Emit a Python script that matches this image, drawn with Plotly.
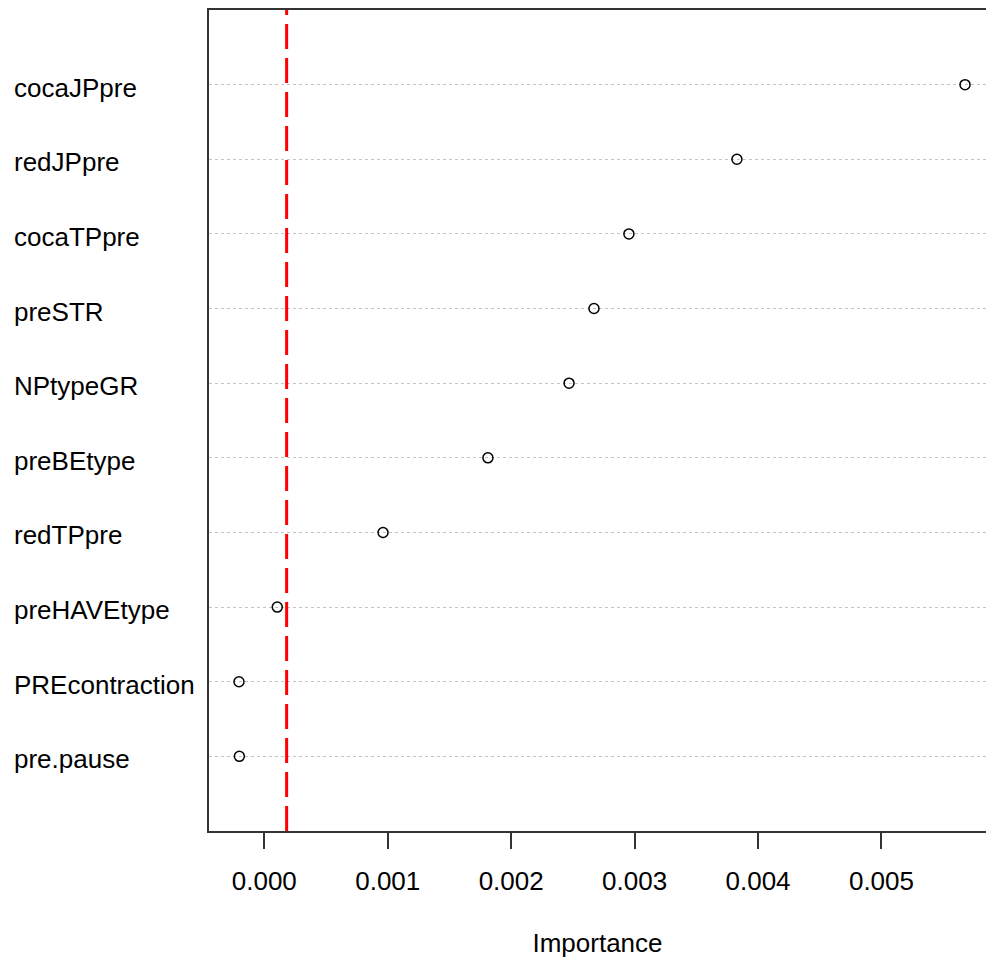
import plotly.graph_objects as go

variables = ["pre.pause", "PREcontraction", "preHAVEtype", "redTPpre", "preBEtype",
             "NPtypeGR", "preSTR", "cocaTPpre", "redJPpre", "cocaJPpre"]
importance = [-0.000202, -0.000205, 0.000105, 0.000962, 0.001812,
              0.002469, 0.002671, 0.002954, 0.003829, 0.005677]
threshold = 0.000181
xtick_vals = [0.000, 0.001, 0.002, 0.003, 0.004, 0.005]
xtick_text = ["0.000", "0.001", "0.002", "0.003", "0.004", "0.005"]

positions = list(range(1, len(variables) + 1))
FONT = "Liberation Sans, Arial, sans-serif"

fig = go.Figure()
fig.add_trace(go.Scatter(
    x=importance, y=positions, mode="markers",
    marker=dict(symbol="circle-open", size=10, color="black", line=dict(width=1.5, color="black")),
    showlegend=False, hoverinfo="x+y",
))

fig.add_shape(type="line", xref="x", yref="paper", x0=threshold, x1=threshold, y0=0, y1=1,
              line=dict(color="#ff0000", width=3, dash="25px,9px"), layer="above")

for v, p in zip(variables, positions):
    fig.add_annotation(x=-0.2535, xref="paper", y=p, yref="y", text=v, showarrow=False,
                       xanchor="left", yanchor="middle", yshift=-3,
                       font=dict(family=FONT, size=26, color="black"))

fig.update_layout(
    width=986, height=961,
    margin=dict(l=209, r=0, t=10, b=130),
    plot_bgcolor="white", paper_bgcolor="white",
    font=dict(family=FONT, size=26, color="black"),
    xaxis=dict(
        range=[-0.000448, 0.005847],
        tickvals=xtick_vals, ticktext=xtick_text,
        ticks="outside", ticklen=16, tickwidth=1.5, tickcolor="#333",
        ticklabelstandoff=10,
        tickfont=dict(family=FONT, size=26, color="black"),
        showline=True, linecolor="#333", linewidth=1.5, mirror=True,
        showgrid=False, zeroline=False,
        title=dict(text="Importance", standoff=39, font=dict(family=FONT, size=26, color="black")),
    ),
    yaxis=dict(
        range=[0, 11], tickvals=positions, showticklabels=False, ticks="",
        showline=True, linecolor="#333", linewidth=1.5, mirror=False,
        showgrid=True, gridcolor="#c4c4c4", gridwidth=1, griddash="3px,3px",
        zeroline=False,
    ),
)

fig.write_html("out.html")
